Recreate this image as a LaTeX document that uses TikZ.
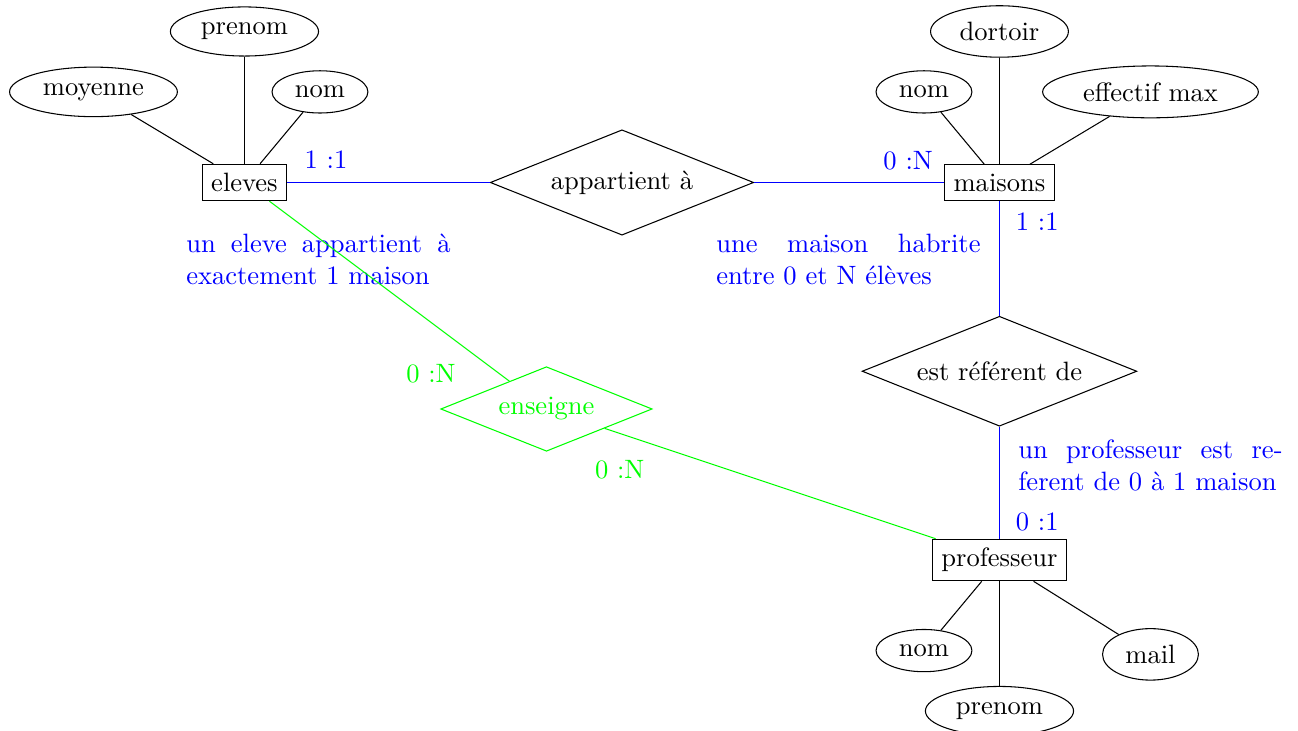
\documentclass[tikz,border=0pt]{standalone}
\usepackage{fontspec}
\usepackage{xcolor}
\usepackage{tikz}
\usetikzlibrary{shapes.geometric, positioning}

\begin{document}
\begin{tikzpicture}[
    entity/.style={rectangle, draw, fill=white},
    attr/.style={ellipse, draw},
    rel/.style={diamond, draw, aspect=2.5},
    bluelink/.style={draw=blue},
    greenlink/.style={draw=green},
    card/.style={text=blue},
    note/.style={text=blue, text width=3.5cm, align=justify},
]
\useasboundingbox (-3.238,-7.265) rectangle (13.954,2.417);

% --- Entities and relations -----------------------------------------
\node[entity] (eleves)     at ( 0,  0)   {eleves};
\node[rel]    (appartient) at ( 5,  0)   {appartient à};
\node[entity] (maisons)    at (10,  0)   {maisons};
\node[rel]    (referent)   at (10, -2.5) {est référent de};
\node[entity] (prof)       at (10, -5)   {professeur};
\node[rel, draw=green, text=green, inner sep=0pt,
      minimum width=2.8cm, minimum height=1.12cm]
              (enseigne)   at ( 4, -3)   {enseigne};

% --- Attributes -----------------------------------------------------
\node[attr] (emoy)     at (-2,  1.2) {moyenne};
\node[attr] (eprenom)  at ( 0,  2)   {prenom};
\node[attr] (enom)     at ( 1,  1.2) {nom};

\node[attr] (mnom)     at ( 9,  1.2) {nom};
\node[attr] (mdortoir) at (10,  2)   {dortoir};
\node[attr] (meff)     at (12,  1.2) {effectif max};

\node[attr] (pnom)     at ( 9, -6.2) {nom};
\node[attr] (pprenom)  at (10, -7)   {prenom};
\node[attr] (pmail)    at (12, -6.25) {mail};

% --- Attribute links ------------------------------------------------
\foreach \a in {emoy, eprenom, enom} \draw (eleves) -- (\a);
\foreach \a in {mnom, mdortoir, meff} \draw (maisons) -- (\a);
\foreach \a in {pnom, pprenom, pmail} \draw (prof) -- (\a);

% --- Notes ----------------------------------------------------------
\node[note] (n1) at ( 0.98, -1.02) {un eleve appartient à exactement 1 maison};
\node[note] (n2) at ( 8.0,  -1.02) {une maison habrite \mbox{entre} 0 et N élèves};
\node[note] (n3) at (12.0,  -3.75) {un professeur est re\-ferent de 0 à 1 maison};

% --- Relation links -------------------------------------------------
\draw[bluelink]  (eleves)     -- (appartient);
\draw[bluelink]  (appartient) -- (maisons);
\draw[bluelink]  (maisons)    -- (referent);
\draw[bluelink]  (referent)   -- (prof);
\draw[greenlink] (eleves)     -- (enseigne);
\draw[greenlink] (enseigne)   -- (prof);

% --- Cardinalities --------------------------------------------------
\node[card] (c1) at ( 1.08,  0.30) {1 :1};
\node[card] (c2) at ( 8.79,  0.29) {0 :N};
\node[card] (c3) at (10.50, -0.52) {1 :1};
\node[card] (c4) at (10.50, -4.49) {0 :1};
\node[text=green] (c5) at (2.47, -2.53) {0 :N};
\node[text=green] (c6) at (4.97, -3.81) {0 :N};

\end{tikzpicture}
\end{document}
